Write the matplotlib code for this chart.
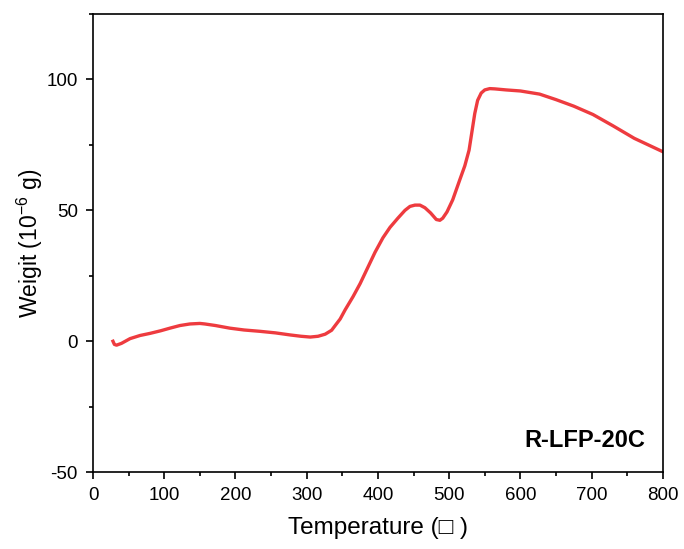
import numpy as np
import matplotlib.pyplot as plt
from matplotlib.ticker import MultipleLocator

plt.rcParams['font.family'] = ['Liberation Sans', 'DejaVu Sans']
plt.rcParams['axes.unicode_minus'] = False
plt.rcParams['mathtext.default'] = 'regular'

# temperature (C) and weight (10^-6 g)
temp = [28, 30, 33, 40, 52, 66, 80, 95, 108, 122, 136, 150, 157, 172, 192, 212,
        234, 256, 277, 292, 305, 316, 326, 335, 340, 347, 354, 365, 375, 382,
        396, 407, 417, 428, 438, 445, 452, 459, 466, 474, 482, 487, 491, 497,
        505, 515, 522, 528, 532, 536, 540, 545, 550, 557, 564, 580, 600, 627,
        650, 675, 702, 730, 760, 800]
weight = [0, -1.2, -1.5, -0.8, 1.0, 2.2, 3.0, 4.0, 5.0, 6.0, 6.6, 6.8, 6.6,
          6.0, 5.0, 4.3, 3.8, 3.2, 2.4, 1.9, 1.6, 1.9, 2.7, 4.2, 6.0, 8.5,
          12, 17, 22, 26, 34, 39.5, 43.5, 47, 50, 51.5, 52, 52, 51, 49, 46.5,
          46.2, 47, 49.4, 54, 61.7, 67, 73, 80, 87, 92, 94.8, 96, 96.5, 96.4,
          96, 95.6, 94.4, 92.3, 89.8, 86.6, 82.3, 77.5, 72.4]

fig = plt.figure(figsize=(6.84, 5.49), dpi=100)
ax = fig.add_axes([0.136, 0.140, 0.833, 0.8345])

ax.plot(temp, weight, color='#ee3b3f', linewidth=2.4)

ax.set_xlim(0, 800)
ax.set_ylim(-50, 125)
ax.xaxis.set_major_locator(MultipleLocator(100))
ax.xaxis.set_minor_locator(MultipleLocator(50))
ax.yaxis.set_major_locator(MultipleLocator(50))
ax.yaxis.set_minor_locator(MultipleLocator(25))
ax.tick_params(which='major', direction='out', length=5, width=1.2,
               labelsize=13.5, pad=6)
ax.tick_params(which='minor', direction='out', length=3, width=1.2)
for s in ax.spines.values():
    s.set_linewidth(1.2)

ax.set_xlabel('Temperature (\u25a1 )', fontsize=17.5, labelpad=9)
ax.set_ylabel('Weigit (10$^{-6}$ g)', fontsize=16.5, labelpad=1)
ax.text(776, -38, 'R-LFP-20C', fontsize=17, fontweight='bold',
        ha='right', va='center')

fig.savefig('out.png', dpi=100)
